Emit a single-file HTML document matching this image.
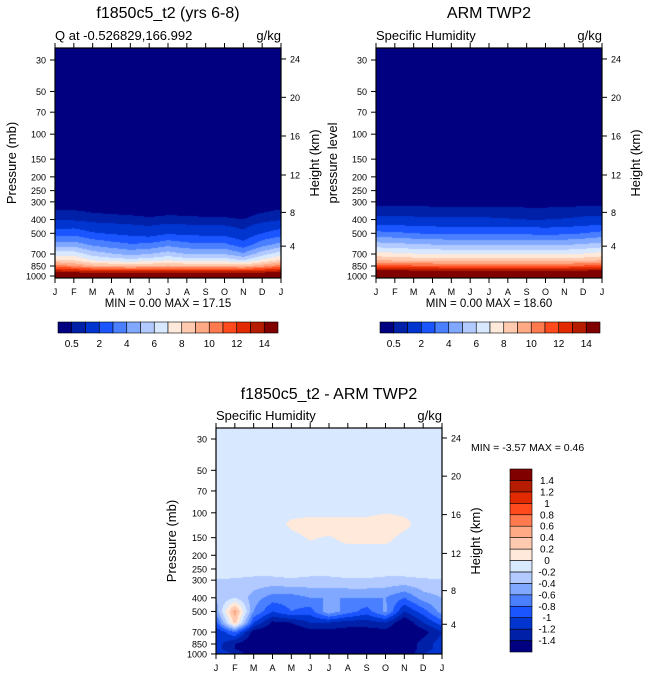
<!DOCTYPE html>
<html><head><meta charset="utf-8">
<style>
body{margin:0;background:#fff;width:648px;height:678px;overflow:hidden;position:relative;font-family:"Liberation Sans",sans-serif}
canvas{position:absolute}
svg{position:absolute;left:0;top:0}
</style></head>
<body>
<canvas id="c1" width="226" height="230" style="left:55px;top:48px"></canvas>
<canvas id="c2" width="226" height="230" style="left:376px;top:48px"></canvas>
<canvas id="c3" width="226" height="226" style="left:216px;top:428px"></canvas>
<svg id="s" width="648" height="678"></svg>
<script>
const months=["J","F","M","A","M","J","J","A","S","O","N","D","J"];
const pTicks=[30,50,70,100,150,200,250,300,400,500,700,850,1000];
const hTicks=[4,8,12,16,20,24];
const hPres=[616,356,194,103,55,29.5];
const topLevels=[0.5,1,2,3,4,5,6,7,8,9,10,11,12,13,14];
const topColors=["#000080","#0020a8","#0035d0","#1a55ff","#4a80ff","#80a8ff","#b2caff","#d8e8ff","#ffe9da","#ffcab0","#ffa985","#ff7a4e","#ff4a1e","#e22a00","#b51c00","#800000"];
const difLevels=[-1.4,-1.2,-1,-0.8,-0.6,-0.4,-0.2,0,0.2,0.4,0.6,0.8,1,1.2,1.4];
const difLabels=["-1.4","-1.2","-1","-0.8","-0.6","-0.4","-0.2","0","0.2","0.4","0.6","0.8","1","1.2","1.4"];
const topLabels=["0.5","","2","","4","","6","","8","","10","","12","","14"];
// model field
const pLev1=[1000,925,850,775,700,600,500,400,300,200,30];
const q1=[
[16.5,16.5,16.5,16.5,16.5,16.5,16.5,16.5,16.5,16.5,16.5,16.5,16.5],
[13.5,13.2,12.8,12.8,12.8,12.8,12.8,12.8,12.8,12.8,12.8,13.0,13.5],
[10.5,10,9.2,9,8.8,9,9.2,9,9,9,8.8,9.6,10.5],
[8.2,8,7,6.6,6.4,6.6,7,6.6,6.6,6.6,6,7.2,8.2],
[6.6,6.6,5.6,5.1,4.7,5,5.5,5,5,5,4.2,5.6,6.6],
[4.4,4.5,3.8,3.4,3.1,3.2,3.7,3.3,3.2,3.2,2.4,3.6,4.4],
[2.5,2.6,2.1,1.9,1.7,1.5,1.9,1.7,1.7,1.6,1.2,2.0,2.5],
[0.95,0.9,0.72,0.66,0.62,0.56,0.62,0.6,0.56,0.56,0.5,0.72,0.95],
[0.15,0.15,0.14,0.14,0.13,0.13,0.13,0.13,0.13,0.13,0.12,0.14,0.15],
[0.03,0.03,0.03,0.03,0.03,0.03,0.03,0.03,0.03,0.03,0.03,0.03,0.03],
[0,0,0,0,0,0,0,0,0,0,0,0,0]];
// observed field
const q2=[
[18,18,18,18,18,18,18,18,18,18,18,18,18],
[14.5,14.5,14.4,14.3,14.3,14.3,14.3,14.3,14.3,14.3,14.3,14.4,14.5],
[11.5,11.4,11.2,11.1,11,11,11,11,11,11,11,11.2,11.5],
[9,8.9,8.7,8.6,8.5,8.5,8.5,8.5,8.5,8.5,8.5,8.7,9],
[7.4,7.3,7.1,7,6.9,6.9,6.9,6.9,6.9,6.9,6.9,7.1,7.4],
[5.4,5.3,5.1,5,4.9,4.9,4.9,4.9,4.9,4.9,4.9,5.1,5.4],
[3.3,3.2,3.0,2.9,2.8,2.8,2.8,2.8,2.8,2.7,2.8,3.0,3.3],
[1.2,1.2,1.15,1.1,1.1,1.1,1.1,1.05,1.0,1.0,1.05,1.15,1.2],
[0.3,0.3,0.29,0.28,0.28,0.28,0.28,0.27,0.26,0.26,0.27,0.29,0.3],
[0.06,0.06,0.06,0.06,0.06,0.06,0.06,0.06,0.06,0.06,0.06,0.06,0.06],
[0,0,0,0,0,0,0,0,0,0,0,0,0]];
// difference field
const pLev3=[1000,925,850,700,600,500,400,300,250,200,150,120,100,30];
const d3=[
[-1.0,-1.2,-1.6,-1.6,-1.6,-1.6,-1.6,-1.6,-1.6,-1.6,-1.6,-1.2,-1.0],
[-1.1,-1.4,-1.6,-1.6,-1.6,-1.6,-1.6,-1.6,-1.6,-1.6,-1.6,-1.3,-1.1],
[-1.1,-1.4,-1.6,-1.6,-1.6,-1.6,-1.6,-1.6,-1.6,-1.6,-1.6,-1.3,-1.1],
[-1.2,-0.8,-1.5,-1.6,-1.6,-1.5,-1.5,-1.5,-1.5,-1.5,-1.6,-1.5,-1.2],
[-0.9,0.3,-1.0,-1.45,-1.4,-1.2,-1.2,-1.3,-1.3,-1.2,-1.6,-1.2,-0.9],
[-0.5,0.5,-0.6,-1.0,-0.8,-0.9,-0.45,-0.7,-0.9,-0.55,-1.2,-0.9,-0.5],
[-0.4,-0.2,-0.5,-0.7,-0.7,-0.6,-0.6,-0.6,-0.6,-0.6,-0.8,-0.5,-0.4],
[-0.21,-0.22,-0.25,-0.25,-0.22,-0.25,-0.25,-0.22,-0.22,-0.25,-0.25,-0.22,-0.21],
[-0.1,-0.1,-0.1,-0.1,-0.1,-0.1,-0.1,-0.1,-0.1,-0.1,-0.1,-0.1,-0.1],
[-0.05,-0.05,-0.05,-0.05,-0.05,-0.05,-0.05,-0.05,-0.05,-0.05,-0.05,-0.05,-0.05],
[-0.05,-0.05,-0.05,-0.05,-0.03,0.01,-0.01,0.03,0.03,0.03,-0.03,-0.05,-0.05],
[-0.05,-0.05,-0.05,-0.05,0.02,0.05,0.06,0.05,0.05,0.08,0.03,-0.05,-0.05],
[-0.03,-0.03,-0.03,-0.03,-0.03,-0.03,-0.03,-0.03,-0.03,-0.005,-0.02,-0.03,-0.03],
[-0.05,-0.05,-0.05,-0.05,-0.05,-0.05,-0.05,-0.05,-0.05,-0.05,-0.05,-0.05,-0.05]];

const NS="http://www.w3.org/2000/svg";
const svg=document.getElementById('s');
function el(tag,attrs,txt){const e=document.createElementNS(NS,tag);for(const k in attrs)e.setAttribute(k,attrs[k]);if(txt!==undefined)e.textContent=txt;svg.appendChild(e);return e;}
function colorIdx(v,levels){let i=0;while(i<levels.length&&v>=levels[i])i++;return i;}
function hex(c){return [parseInt(c.slice(1,3),16),parseInt(c.slice(3,5),16),parseInt(c.slice(5,7),16)];}
function sample(field,plev,m,p){
  const mi=Math.min(11,Math.floor(m)),mf=m-mi;
  const lp=Math.log(p);
  let k=0;while(k<plev.length-2&&Math.log(plev[k+1])>lp)k++;
  let f=(Math.log(plev[k])-lp)/(Math.log(plev[k])-Math.log(plev[k+1]));
  f=Math.max(0,Math.min(1,f));
  const a=field[k][mi]*(1-mf)+field[k][mi+1]*mf;
  const b=field[k+1][mi]*(1-mf)+field[k+1][mi+1]*mf;
  return a*(1-f)+b*f;
}
function panel(o){
  const yOf=p=>o.y30+o.s*Math.log(p/30);
  const pOf=y=>30*Math.exp((y-o.y30)/o.s);
  const xOf=m=>o.x+o.w*m/12;
  const cv=document.getElementById(o.cid),ctx=cv.getContext('2d');
  const img=ctx.createImageData(o.w,o.h);
  const cols=o.colors.map(hex);
  for(let j=0;j<o.h;j++){const p=pOf(o.y+j+0.5);
    for(let i=0;i<o.w;i++){const m=12*(i+0.5)/o.w;
      const c=cols[colorIdx(sample(o.field,o.plev,m,p),o.levels)];
      const idx=(j*o.w+i)*4;img.data[idx]=c[0];img.data[idx+1]=c[1];img.data[idx+2]=c[2];img.data[idx+3]=255;}}
  ctx.putImageData(img,0,0);
  el('rect',{x:o.x,y:o.y,width:o.w,height:o.h,fill:'none',stroke:'#000','stroke-width':1.2,});
  months.forEach((mn,i)=>{const x=xOf(i);
    el('line',{x1:x,x2:x,y1:o.y+o.h,y2:o.y+o.h+5,stroke:'#000'});
    el('line',{x1:x,x2:x,y1:o.y,y2:o.y-5,stroke:'#000'});
    el('text',{x:x,y:o.y+o.h+17,'font-size':9,'text-anchor':'middle',},mn);});
  pTicks.forEach(p=>{const y=yOf(p);
    el('line',{x1:o.x,x2:o.x-5,y1:y,y2:y,stroke:'#000'});
    el('text',{x:o.x-9,y:y+3.5,'font-size':9,'text-anchor':'end',},p);});
  hTicks.forEach((h,i)=>{const y=yOf(hPres[i]);
    el('line',{x1:o.x+o.w,x2:o.x+o.w+5,y1:y,y2:y,stroke:'#000'});
    el('text',{x:o.x+o.w+9,y:y+3.5,'font-size':9,},h);});
  const cy=o.y+o.h/2;
  el('text',{x:o.ylx,y:cy,'font-size':13,'text-anchor':'middle',transform:`rotate(-90 ${o.ylx} ${cy})`,},o.ylab);
  el('text',{x:o.x+o.w+38,y:cy,'font-size':13,'text-anchor':'middle',transform:`rotate(-90 ${o.x+o.w+38} ${cy})`,},'Height (km)');
  el('text',{x:o.x,y:o.y-8,'font-size':13,},o.sub);
  el('text',{x:o.x+o.w,y:o.y-8,'font-size':13,'text-anchor':'end',},'g/kg');
  el('text',{x:o.x+o.w/2,y:o.ty,'font-size':16,'text-anchor':'middle',},o.title);
}
function hbar(x,y,w,h){
  const bw=w/topColors.length;
  topColors.forEach((c,i)=>el('rect',{x:x+i*bw,y:y,width:bw,height:h,fill:c,stroke:'#000','stroke-width':0.6,}));
  topLabels.forEach((l,i)=>{if(l)el('text',{x:x+(i+1)*bw,y:y+h+14,'font-size':10,'text-anchor':'middle',},l);});
}
panel({cid:'c1',name:'model',x:55,y:48,w:226,h:230,y30:60,s:61.6,field:q1,plev:pLev1,levels:topLevels,colors:topColors,ylab:'Pressure (mb)',ylx:16,sub:'Q at -0.526829,166.992',title:'f1850c5_t2 (yrs 6-8)',ty:18});
panel({cid:'c2',name:'obs',x:376,y:48,w:226,h:230,y30:60,s:61.6,field:q2,plev:pLev1,levels:topLevels,colors:topColors,ylab:'pressure level',ylx:337,sub:'Specific Humidity',title:'ARM TWP2',ty:18});
panel({cid:'c3',name:'diff',x:216,y:428,w:226,h:226,y30:439,s:61.3,field:d3,plev:pLev3,levels:difLevels,colors:topColors,ylab:'Pressure (mb)',ylx:176,sub:'Specific Humidity',title:'f1850c5_t2 - ARM TWP2',ty:399});
el('text',{x:168,y:307,'font-size':11.5,'text-anchor':'middle',},'MIN =   0.00 MAX =  17.15');
el('text',{x:489,y:307,'font-size':11.5,'text-anchor':'middle',},'MIN =   0.00 MAX =  18.60');
el('text',{x:471,y:451,'font-size':10.5,},'MIN =  -3.57 MAX =   0.46');
hbar(58,322,220,11);
hbar(380,322,220,11);
// vertical colorbar
(function(){const x=510,y=469,w=22,h=183,bh=h/topColors.length;
  topColors.forEach((c,i)=>el('rect',{x:x,y:y+h-(i+1)*bh,width:w,height:bh,fill:c,stroke:'#000','stroke-width':0.6,}));
  difLabels.forEach((l,i)=>el('text',{x:x+w+15,y:y+h-(i+1)*bh+3.5,'font-size':10,'text-anchor':'middle',},l));
})();
</script>
</body></html>
